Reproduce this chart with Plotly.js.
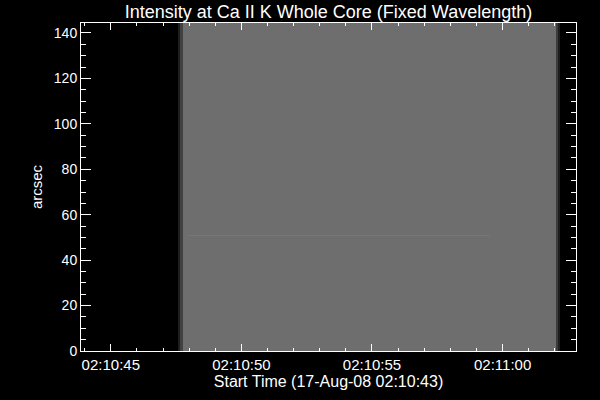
<!DOCTYPE html>
<html>
<head>
<meta charset="utf-8">
<script src="https://cdn.plot.ly/plotly-3.0.1.min.js"></script>
<style>html,body{margin:0;padding:0;background:#000;}#chart{width:600px;height:400px;}</style>
</head>
<body>
<div id="chart"></div>
<script>
// Column edges (time, 17-Aug-2008) of the image bricks
const dayPrefix = '2008-08-17 ';
const colEdgeTimes = ['02:10:43.86','02:10:47.56','02:10:47.66','02:10:47.75','02:10:47.97','02:10:59.52','02:11:02.04','02:11:02.11','02:11:02.19','02:11:02.81'];
// Row edges (arcsec)
const rowEdges = [0, 50.5, 50.9, 144.4];
// Intensity (0-255 grey) per column for each row band
const rowLow  = [0, 30, 65, 110, 110, 110, 60, 30, 0];
const rowLine = [0, 30, 65, 110, 118, 110, 60, 30, 0];
const rowHigh = [0, 30, 65, 110, 110, 110, 60, 30, 0];

// Axis ticks
const xTick0 = '02:10:45';
const xTickStepSec = 5;
const xMinorStepSec = 1;
const xRange = ['02:10:43.86', '02:11:02.81'];
const yRange = [0, 144.4];

const titleText = 'Intensity at Ca II K Whole Core (Fixed Wavelength)';
const xTitleText = 'Start Time (17-Aug-08 02:10:43)';
const yTitleText = 'arcsec';

const font = 'Liberation Sans, Arial, sans-serif';

const trace = {
  type: 'heatmap',
  x: colEdgeTimes.map(t => dayPrefix + t),
  y: rowEdges,
  z: [rowLow, rowLine, rowHigh],
  zmin: 0, zmax: 255,
  colorscale: [[0, '#000000'], [1, '#ffffff']],
  showscale: false,
  hoverinfo: 'skip'
};

const layout = {
  width: 600, height: 400,
  paper_bgcolor: '#000', plot_bgcolor: '#000',
  margin: {l: 81, r: 24, t: 23, b: 49},
  font: {family: font, color: '#fff', size: 14},
  title: {text: titleText, font: {family: font, size: 18, color: '#fff'}, x: 0.5, xref: 'paper', y: 1 - 11.5/400, yref: 'container', yanchor: 'middle'},
  xaxis: {
    type: 'date',
    range: xRange.map(t => dayPrefix + t),
    tick0: dayPrefix + xTick0,
    dtick: xTickStepSec * 1000,
    tickformat: '%H:%M:%S',
    ticks: 'inside', ticklen: 7, tickwidth: 1, tickcolor: '#fff',
    minor: {ticks: 'inside', ticklen: 3, tickwidth: 1, tickcolor: '#fff', dtick: xMinorStepSec * 1000, tick0: dayPrefix + xTick0},
    showline: true, linecolor: '#fff', linewidth: 1, mirror: 'ticks',
    showgrid: false, zeroline: false,
    tickfont: {family: font, size: 15, color: '#fff'},
    title: {text: xTitleText, font: {family: font, size: 16, color: '#fff'}, standoff: 3}
  },
  yaxis: {
    range: yRange,
    tick0: 0, dtick: 20,
    ticks: 'inside', ticklen: 10, tickwidth: 1, tickcolor: '#fff',
    minor: {ticks: 'inside', ticklen: 5, tickwidth: 1, tickcolor: '#fff', dtick: 5, tick0: 0},
    showline: true, linecolor: '#fff', linewidth: 1, mirror: 'ticks',
    showgrid: false, zeroline: false,
    tickfont: {family: font, size: 14, color: '#fff'},
    title: {text: yTitleText, font: {family: font, size: 15, color: '#fff'}, standoff: 7}
  }
};

Plotly.newPlot('chart', [trace], layout, {displayModeBar: false, staticPlot: true});
</script>
</body>
</html>
